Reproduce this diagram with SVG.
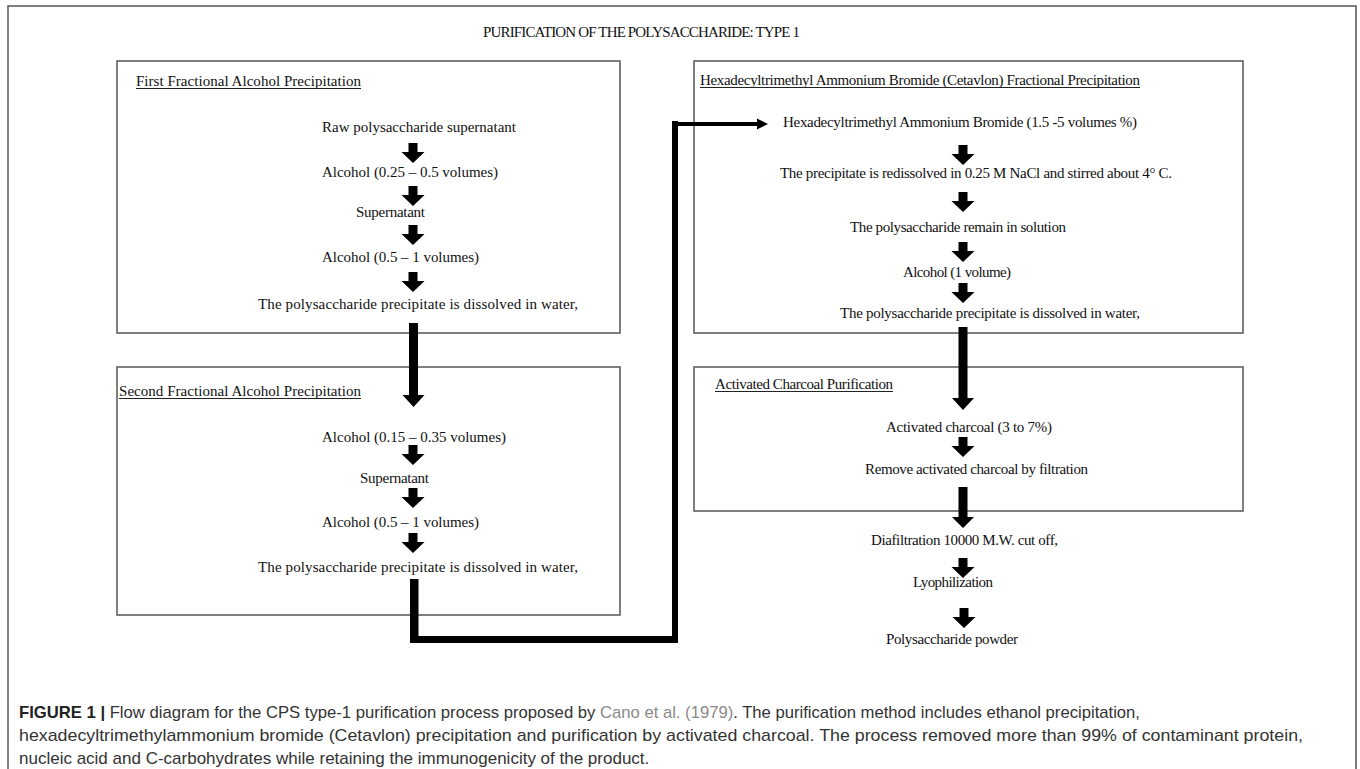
<svg xmlns="http://www.w3.org/2000/svg" xmlns:xlink="http://www.w3.org/1999/xlink" width="1360" height="769" viewBox="0 0 1360 769">
<style>
.t{font-family:"Liberation Serif","Times New Roman",serif;font-size:15px;fill:#111}
.ul{stroke:#222;stroke-width:1}
.box{fill:none;stroke:#555;stroke-width:1.5}
.cap{font-family:"Liberation Sans",Arial,sans-serif;font-size:17px;fill:#333}
.blk{fill:#000}
</style>
<defs>
<path id="ba" d="M-4.5,0 H4.5 V9 H11.5 L0,20 L-11.5,9 H-4.5 Z"/>
</defs>
<rect width="1360" height="769" fill="#fff"/>
<path d="M8,769 V6 H1356 V769" fill="none" stroke="#555" stroke-width="1.5"/>
<text class="t" x="483" y="37" textLength="317" font-size="14">PURIFICATION OF THE POLYSACCHARIDE: TYPE 1</text>

<g id="box1">
<rect class="box" x="117" y="61" width="503" height="272"/>
<text class="t" x="136" y="86" textLength="225">First Fractional Alcohol Precipitation</text>
<line class="ul" x1="136" y1="88.5" x2="361" y2="88.5"/>
<text class="t" x="322" y="132" textLength="194">Raw polysaccharide supernatant</text>
<text class="t" x="322" y="177" textLength="176">Alcohol (0.25 – 0.5 volumes)</text>
<text class="t" x="356" y="217" textLength="69">Supernatant</text>
<text class="t" x="322" y="262" textLength="157">Alcohol (0.5 – 1 volumes)</text>
<text class="t" x="258" y="309" textLength="320">The polysaccharide precipitate is dissolved in water,</text>
</g>

<g id="box2">
<rect class="box" x="117" y="367" width="503" height="248"/>
<text class="t" x="119" y="396" textLength="242">Second Fractional Alcohol Precipitation</text>
<line class="ul" x1="119" y1="398.5" x2="361" y2="398.5"/>
<text class="t" x="322" y="442" textLength="184">Alcohol (0.15 – 0.35 volumes)</text>
<text class="t" x="360" y="483" textLength="69">Supernatant</text>
<text class="t" x="322" y="527" textLength="157">Alcohol (0.5 – 1 volumes)</text>
<text class="t" x="258" y="572" textLength="320">The polysaccharide precipitate is dissolved in water,</text>
</g>

<g id="box3">
<rect class="box" x="694" y="61" width="549" height="272"/>
<text class="t" x="700" y="85" textLength="440">Hexadecyltrimethyl Ammonium Bromide (Cetavlon) Fractional Precipitation</text>
<line class="ul" x1="700" y1="87.5" x2="1140" y2="87.5"/>
<text class="t" x="783" y="127" textLength="354">Hexadecyltrimethyl Ammonium Bromide (1.5 -5 volumes %)</text>
<text class="t" x="780" y="178" textLength="392">The precipitate is redissolved in 0.25 M NaCl and stirred about 4° C.</text>
<text class="t" x="850" y="232" textLength="216">The polysaccharide remain in solution</text>
<text class="t" x="903" y="277" textLength="108">Alcohol (1 volume)</text>
<text class="t" x="840" y="318" textLength="300">The polysaccharide precipitate is dissolved in water,</text>
</g>

<g id="box4">
<rect class="box" x="694" y="367" width="549" height="144"/>
<text class="t" x="715" y="389" textLength="178">Activated Charcoal Purification</text>
<line class="ul" x1="715" y1="391.5" x2="893" y2="391.5"/>
<text class="t" x="886" y="432" textLength="166">Activated charcoal (3 to 7%)</text>
<text class="t" x="865" y="474" textLength="223">Remove activated charcoal by filtration</text>
</g>

<g id="final-steps">
<text class="t" x="871" y="545" textLength="187">Diafiltration 10000 M.W. cut off,</text>
<text class="t" x="913" y="587" textLength="80">Lyophilization</text>
<text class="t" x="886" y="644" textLength="132">Polysaccharide powder</text>
</g>

<g id="connectors" class="blk">
<use xlink:href="#ba" x="413" y="143"/>
<use xlink:href="#ba" x="413" y="186"/>
<use xlink:href="#ba" x="413" y="225"/>
<use xlink:href="#ba" x="413" y="272"/>
<path d="M409,323 H418 V395 H424.5 L413.5,407 L402.5,395 H409 Z"/>
<use xlink:href="#ba" x="413" y="445"/>
<use xlink:href="#ba" x="413" y="488"/>
<use xlink:href="#ba" x="413" y="533"/>
<path d="M410,579 H418.5 V636 H672 V121 H678 V122 H760 V126 H678 V643 H410 Z"/>
<polygon points="757,118.5 768,124 757,129.5"/>
<use xlink:href="#ba" x="963" y="145"/>
<use xlink:href="#ba" x="963" y="192"/>
<use xlink:href="#ba" x="963" y="242"/>
<use xlink:href="#ba" x="963" y="283"/>
<path d="M958.5,327 H967.5 V398 H974 L963,410 L952,398 H958.5 Z"/>
<use xlink:href="#ba" x="963" y="437"/>
<path d="M958.5,487 H967.5 V517 H974 L963,528 L952,517 H958.5 Z"/>
<use xlink:href="#ba" x="963" y="558"/>
<use xlink:href="#ba" x="964" y="608"/>
</g>

<g id="caption">
<text class="cap" x="19" y="718" textLength="1121" lengthAdjust="spacingAndGlyphs"><tspan font-weight="bold" fill="#222">FIGURE 1 |</tspan> Flow diagram for the CPS type-1 purification process proposed by <tspan fill="#8a8a8a">Cano et al. (1979)</tspan>. The purification method includes ethanol precipitation,</text>
<text class="cap" x="19" y="741" textLength="1284" lengthAdjust="spacingAndGlyphs">hexadecyltrimethylammonium bromide (Cetavlon) precipitation and purification by activated charcoal. The process removed more than 99% of contaminant protein,</text>
<text class="cap" x="19" y="764">nucleic acid and C-carbohydrates while retaining the immunogenicity of the product.</text>
</g>
</svg>
